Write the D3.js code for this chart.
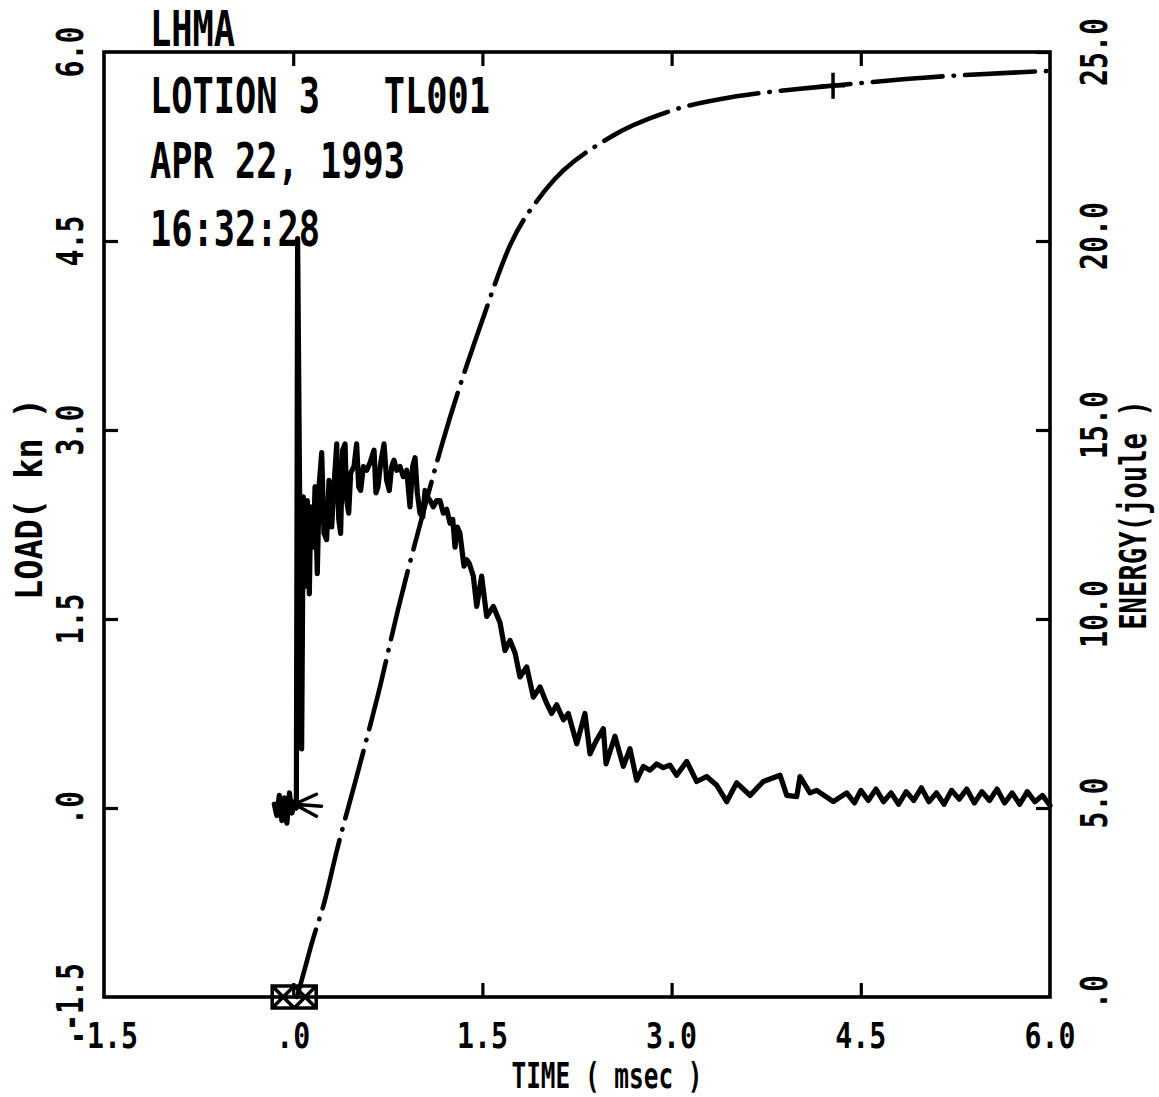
<!DOCTYPE html>
<html><head><meta charset="utf-8">
<script src="https://cdn.jsdelivr.net/npm/d3@7"></script>
<style>html,body{margin:0;background:#fff}text{white-space:pre}</style>
</head><body><svg id="c" width="1159" height="1097" xmlns="http://www.w3.org/2000/svg"></svg>
<script>
// ---- data ----
const headerLines = ["LHMA", "LOTION 3   TL001", "APR 22, 1993", "16:32:28"];
const timeTicks = [-1.5, 0, 1.5, 3.0, 4.5, 6.0];
const timeTickLabels = ["-1.5", ".0", "1.5", "3.0", "4.5", "6.0"];
const loadTicks = [-1.5, 0, 1.5, 3.0, 4.5, 6.0];
const loadTickLabels = ["-1.5", ".0", "1.5", "3.0", "4.5", "6.0"];
const energyTicks = [0, 5, 10, 15, 20, 25];
const energyTickLabels = [".0", "5.0", "10.0", "15.0", "20.0", "25.0"];

const loadTime = [-0.15,-0.13,-0.11,-0.09,-0.07,-0.05,-0.03,-0.01,0.01,0.025,
 0.035,0.067,0.080,0.101,0.112,0.128,0.139,0.160,0.173,0.191,0.207,0.226,0.244,0.265,0.284,0.305,0.323,0.345,0.361,0.376,0.392,0.411,0.424,0.440,0.456,0.482,0.503,0.519,0.535,0.556,0.583,0.609,0.641,0.656,0.672,0.694,0.720,0.741,0.762,0.781,0.799,0.821,0.847,0.873,0.900,0.926,0.947,0.966,0.984,1.005,1.027,1.045,1.063,1.085,1.111,1.138,1.164,1.190,1.217,1.243,1.265,1.283,1.301,1.322,1.338,1.354,1.376,1.396,1.428,1.455,1.494,1.534,1.587,1.640,1.679,1.719,1.759,1.798,1.851,1.904,1.957,2.010,2.049,2.089,2.142,2.181,2.248,2.313,2.353,2.406,2.459,2.480,2.551,2.617,2.670,2.723,2.776,2.829,2.882,2.934,2.987,3.040,3.120,3.199,3.278,3.358,3.437,3.516,3.622,3.727,3.860,3.913,3.992,4.018,4.097,4.150,4.282,4.388,
 4.45,4.50,4.56,4.62,4.68,4.74,4.80,4.86,4.92,4.98,5.04,5.10,5.16,5.22,5.28,5.34,5.40,5.46,5.52,5.58,5.64,5.70,5.76,5.82,5.88,5.94,6.00];
const loadValue = [0.03,-0.06,0.10,-0.10,0.08,-0.12,0.12,-0.04,0.05,0.00,
 4.52,0.47,2.47,1.76,2.44,1.70,2.39,2.07,2.55,1.86,2.58,2.82,2.18,2.13,2.60,2.23,2.55,2.89,2.29,2.18,2.84,2.89,2.44,2.34,2.66,2.71,2.89,2.55,2.52,2.71,2.68,2.74,2.84,2.50,2.55,2.74,2.89,2.60,2.52,2.71,2.76,2.68,2.71,2.63,2.68,2.39,2.71,2.78,2.50,2.34,2.31,2.52,2.47,2.44,2.39,2.44,2.44,2.34,2.37,2.26,2.29,2.07,2.23,2.18,2.05,1.92,1.97,1.94,1.84,1.60,1.84,1.52,1.60,1.47,1.25,1.33,1.23,1.04,1.12,0.88,0.96,0.83,0.75,0.82,0.70,0.75,0.51,0.75,0.43,0.54,0.63,0.35,0.57,0.33,0.47,0.22,0.33,0.30,0.35,0.32,0.34,0.26,0.37,0.21,0.25,0.18,0.05,0.20,0.10,0.21,0.26,0.10,0.09,0.25,0.12,0.14,0.05,0.12,
 0.04,0.14,0.06,0.15,0.05,0.12,0.03,0.13,0.06,0.16,0.05,0.12,0.03,0.14,0.07,0.15,0.04,0.13,0.06,0.15,0.04,0.12,0.03,0.13,0.05,0.10,0.02];

const energyTime  = [0.03, 0.094, 0.147, 0.252, 0.347, 0.503, 0.675, 0.833, 1.005, 1.190, 1.50, 1.72, 2.00, 2.50, 3.00, 3.50, 4.00, 4.28, 5.00, 6.00];
const energyValue = [0.00, 0.77, 1.42, 2.57, 3.89, 5.83, 8.03, 10.28, 12.49, 14.74, 17.91, 19.89, 21.35, 22.72, 23.45, 23.82, 24.02, 24.11, 24.32, 24.50];
const energyMarker = {t: 4.28, e: 24.11};
const boxMarker = {t: 0.0, load: -1.5};
const fanMarker = {t: 0.01, load: 0.03};

// ---- drawing ----
const svg = d3.select("#c");
svg.append("rect").attr("width",1159).attr("height",1097).attr("fill","#fff");
const L = 104, R = 1050, T = 52, B = 997;
const x = d3.scaleLinear().domain([-1.5, 6]).range([L, R]);
const yL = d3.scaleLinear().domain([-1.5, 6]).range([B, T]);
const yE = d3.scaleLinear().domain([0, 25]).range([B, T]);
const FONT = "'DejaVu Sans Mono', 'Liberation Mono', monospace";

function mono(str, px, py, size, adv, anchor, rot) {
  return svg.append("text")
    .attr("transform", `translate(${px},${py})` + (rot ? ` rotate(${rot})` : ""))
    .attr("font-family", FONT).attr("font-weight", "bold")
    .attr("font-size", size).attr("text-anchor", anchor)
    .attr("xml:space", "preserve")
    .attr("textLength", str.length * adv).attr("lengthAdjust", "spacingAndGlyphs")
    .attr("fill", "#000")
    .text(str);
}

// axes (tick marks only, pointing inward)
const inner = [0, 1.5, 3.0, 4.5];
const axStyle = g => { g.select(".domain").remove(); g.selectAll("line").attr("stroke","#000").attr("stroke-width",3.2); };
svg.append("g").attr("transform",`translate(0,${B})`).call(d3.axisBottom(x).tickValues(inner).tickSize(-14).tickFormat("")).call(axStyle);
svg.append("g").attr("transform",`translate(0,${T})`).call(d3.axisTop(x).tickValues(inner).tickSize(-14).tickFormat("")).call(axStyle);
svg.append("g").attr("transform",`translate(${L},0)`).call(d3.axisLeft(yL).tickValues(inner).tickSize(-14).tickFormat("")).call(axStyle);
svg.append("g").attr("transform",`translate(${R},0)`).call(d3.axisRight(yE).tickValues([5,10,15,20,25]).tickSize(-14).tickFormat("")).call(axStyle);

svg.append("rect").attr("x",L).attr("y",T).attr("width",R-L).attr("height",B-T)
  .attr("fill","none").attr("stroke","#000").attr("stroke-width",3.6);

// tick labels
timeTicks.forEach((v,i)=> mono(timeTickLabels[i], x(v), 1048, 36, 17, "middle"));
loadTicks.forEach((v,i)=> mono(loadTickLabels[i], 83, yL(v), 38, 17, "middle", -90));
energyTicks.forEach((v,i)=> mono(energyTickLabels[i], 1107, Math.max(yE(v)-5, 52), 37, 17, "middle", -90));

// axis titles
mono("TIME ( msec )", 607, 1088, 35, 14.7, "middle");
mono("LOAD( kn )", 42, 499, 37, 20.2, "middle", -90);
mono("ENERGY(joule )", 1146, 515, 38, 16.4, "middle", -90);

// header
const headerBase = [46, 113, 178, 246];
headerLines.forEach((s,i)=> mono(s, 150, headerBase[i], 50, 21.25, "start"));

// energy curve
const eLine = d3.line().x((d,i)=>x(energyTime[i])).y((d,i)=>yE(energyValue[i])).curve(d3.curveMonotoneX);
svg.append("path").attr("d", eLine(energyTime)).attr("fill","none").attr("stroke","#000")
  .attr("stroke-width",4.6).attr("stroke-linecap","round").attr("stroke-dasharray","70,11,0.5,11");

// load curve
const lLine = d3.line().x((d,i)=>x(loadTime[i])).y((d,i)=>yL(loadValue[i]));
svg.append("path").attr("d", lLine(loadTime)).attr("fill","none").attr("stroke","#000")
  .attr("stroke-width",5.2).attr("stroke-linejoin","round").attr("stroke-linecap","round");

// markers
const mx = x(energyMarker.t), my = yE(energyMarker.e);
svg.append("path").attr("d",`M${mx-12},${my}H${mx+12}M${mx},${my-13}V${my+13}`)
  .attr("stroke","#000").attr("stroke-width",3.5).attr("fill","none");
const bx = x(boxMarker.t), by = yL(boxMarker.load);
svg.append("path").attr("d",`M${bx-21},${by-11}H${bx+23}V${by+11}H${bx-21}Z M${bx-21},${by-11}L${bx+1},${by+11}M${bx-21},${by+11}L${bx+1},${by-11}M${bx+1},${by-11}L${bx+23},${by+11}M${bx+1},${by+11}L${bx+23},${by-11}`)
  .attr("stroke","#000").attr("stroke-width",3.5).attr("fill","none");
const fx = x(fanMarker.t), fy = yL(fanMarker.load);
svg.append("path").attr("d",`M${fx},${fy}l22,-10M${fx},${fy}l27,2M${fx},${fy}l22,12`)
  .attr("stroke","#000").attr("stroke-width",3.5).attr("fill","none").attr("stroke-linecap","round");
</script></body></html>
